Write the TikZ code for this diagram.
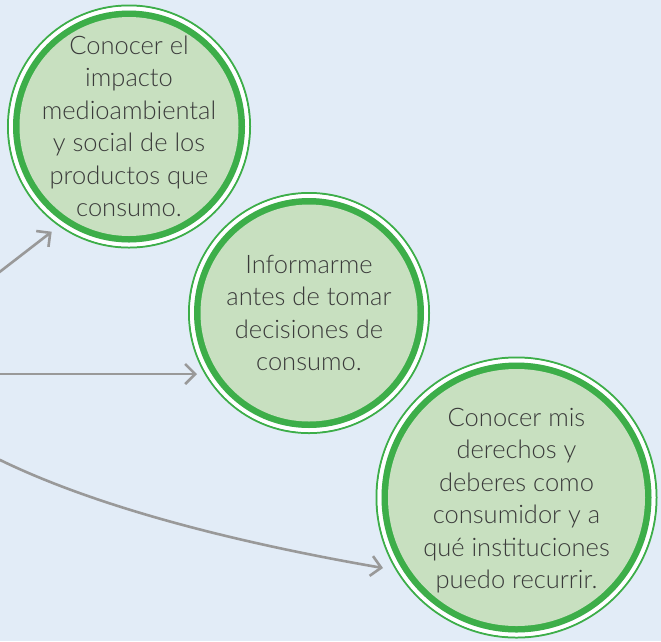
\documentclass[tikz,border=0pt]{standalone}
\usepackage{fontspec}
\setmainfont{Lato Light}
\usetikzlibrary{arrows.meta}
\definecolor{bgblue}{HTML}{E2ECF7}
\definecolor{ringgreen}{HTML}{3DAE49}
\definecolor{fillgreen}{HTML}{C8E0C0}
\definecolor{arrowgray}{HTML}{999999}
\definecolor{textgray}{HTML}{3A3A3A}
\tikzset{
  bubbletext/.style={align=center, text=textgray, font=\fontsize{25.5}{32.5}\selectfont, inner sep=0pt},
  conn/.style={draw=arrowgray, line width=2.6pt, -{Straight Barb[length=10pt,width=20pt,line width=2.6pt]}},
}
\newcommand{\bubblerings}[2]{%
  \draw[ringgreen, line width=2pt] (#1) circle[radius=#2pt-1pt];
  \draw[white, line width=4pt] (#1) circle[radius=#2pt-4pt];
  \fill[ringgreen] (#1) circle[radius=#2pt-6pt];
  \fill[fillgreen] (#1) circle[radius=#2pt-12.5pt];
}
\begin{document}
\begin{tikzpicture}[x=1pt,y=-1pt]
\fill[bgblue] (0,0) rectangle (661,641);
\useasboundingbox (0,0) rectangle (661,641);
\coordinate (p1) at (129,126.5);
\coordinate (p2) at (309,313);
\coordinate (p3) at (516.5,497.5);
\bubblerings{p1}{122}
\bubblerings{p2}{121}
\bubblerings{p3}{141}
\node[bubbletext] (c1) at (p1) {Conocer el\\impacto\\medioambiental\\y social de los\\productos que\\consumo.};
\node[bubbletext] (c2) at (p2) {Informarme\\antes de tomar\\decisiones de\\consumo.};
\node[bubbletext] (c3) at ([yshift=-3pt]p3) {Conocer mis\\derechos y\\deberes como\\consumidor y a\\qué instituciones\\puedo recurrir.};
\coordinate (s1) at (-6,276.3);
\coordinate (t1) at (51.7,231.7);
\coordinate (s2) at (-6,374);
\coordinate (t2) at (197,374);
\coordinate (s3) at (-6,457);
\coordinate (t3) at (383,568);
\draw[conn] (s1) -- (t1);
\draw[conn] (s2) -- (t2);
\draw[conn] (s3) .. controls (100,510) and (250,545) .. (t3);
\end{tikzpicture}
\end{document}
